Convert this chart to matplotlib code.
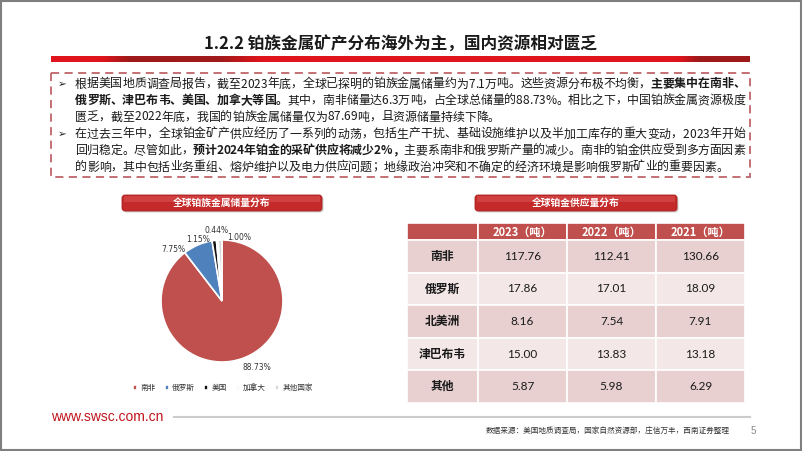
import matplotlib
matplotlib.use('Agg')
import matplotlib.pyplot as plt
from matplotlib.patches import Rectangle, FancyBboxPatch
from matplotlib.colors import LinearSegmentedColormap
import numpy as np

CJK = 'Noto Sans CJK SC'
plt.rcParams['font.family'] = [CJK, 'DejaVu Sans']

# ---------------- data ----------------
title = '1.2.2 铂族金属矿产分布海外为主，国内资源相对匮乏'

para1 = [
    [('根据美国地质调查局报告，截至2023年底，全球已探明的铂族金属储量约为7.1万吨。这些资源分布极不均衡，', False),
     ('主要集中在南非、', True)],
    [('俄罗斯、津巴布韦、美国、加拿大等国。', True),
     ('其中，南非储量达6.3万吨，占全球总储量的88.73%。相比之下，中国铂族金属资源极度', False)],
    [('匮乏，截至2022年底，我国的铂族金属储量仅为87.69吨，且资源储量持续下降。', False)],
]
para2 = [
    [('在过去三年中，全球铂金矿产供应经历了一系列的动荡，包括生产干扰、基础设施维护以及半加工库存的重大变动，2023年开始', False)],
    [('回归稳定。尽管如此，', False), ('预计2024年铂金的采矿供应将减少2%，', True),
     ('主要系南非和俄罗斯产量的减少。南非的铂金供应受到多方面因素', False)],
    [('的影响，其中包括业务重组、熔炉维护以及电力供应问题；地缘政治冲突和不确定的经济环境是影响俄罗斯矿业的重要因素。', False)],
]

pie_title = '全球铂族金属储量分布'
pie_labels = ['南非', '俄罗斯', '美国', '加拿大', '其他国家']
pie_values = [88.73, 7.75, 1.15, 0.44, 1.00]

table_title = '全球铂金供应量分布'
table_cols = ['2023（吨）', '2022（吨）', '2021（吨）']
table_rows = ['南非', '俄罗斯', '北美洲', '津巴布韦', '其他']
supply_2023 = [117.76, 17.86, 8.16, 15.00, 5.87]
supply_2022 = [112.41, 17.01, 7.54, 13.83, 5.98]
supply_2021 = [130.66, 18.09, 7.91, 13.18, 6.29]

source = '数据来源：美国地质调查局，国家自然资源部，庄信万丰，西南证券整理'
website = 'www.swsc.com.cn'
page_no = '5'

# ---------------- figure ----------------
W, H = 802, 451
fig = plt.figure(figsize=(W / 100, H / 100), dpi=100)
fig.patch.set_facecolor('white')
ax0 = fig.add_axes([0, 0, 1, 1])
ax0.set_xlim(0, W)
ax0.set_ylim(H, 0)
ax0.axis('off')
renderer = fig.canvas.get_renderer()

# outer frame
ax0.add_patch(Rectangle((0.8, 0.8), W - 1.6, H - 1.6, fill=False, edgecolor='#7f7f7f', lw=1.5))

# title
ax0.text(400, 45, title, ha='center', va='center', fontsize=12, fontweight='bold', color='#1a1a1a')

# title bar with gradient
stops = [(0.0, '#e0141c'), (0.07, '#e0141c'), (0.11, '#9e1a1a'), (0.24, '#a01a1a'),
         (0.30, '#e0141c'), (0.90, '#e0141c'), (0.93, '#9e1a1a'), (1.0, '#9e1a1a')]
cmap_bar = LinearSegmentedColormap.from_list('bar', stops)
grad = np.linspace(0, 1, 400).reshape(1, -1)
ax0.imshow(grad, cmap=cmap_bar, extent=[51, 750, 62.5, 57], aspect='auto', zorder=2)
ax0.set_xlim(0, W)
ax0.set_ylim(H, 0)

# dashed box
ax0.add_patch(Rectangle((51, 73), 699, 104, fill=False, edgecolor='#c0646a', lw=1.3,
                        linestyle=(0, (4.5, 3))))

# justified text helper
_cache = {}
def adv(c, bold, size):
    key = (c, bold, size)
    if key not in _cache:
        wt = 'bold' if bold else 'normal'
        t1 = ax0.text(0, 0, '中' + c + '中', fontsize=size, fontweight=wt)
        t2 = ax0.text(0, 0, '中中', fontsize=size, fontweight=wt)
        w = t1.get_window_extent(renderer).width - t2.get_window_extent(renderer).width
        t1.remove(); t2.remove()
        _cache[key] = w
    return _cache[key]

def draw_line(pieces, x0, x1, y, size, justify):
    chars = [(c, b) for txt, b in pieces for c in txt]
    widths = [adv(c, b, size) for c, b in chars]
    total = sum(widths)
    gap = (x1 - x0 - total) / (len(chars) - 1) if justify and len(chars) > 1 else 0
    x = x0
    for (c, b), w in zip(chars, widths):
        ax0.text(x, y, c, ha='left', va='center', fontsize=size,
                 fontweight='bold' if b else 'normal', color='#1a1a1a')
        x += w + gap

BODY = 8.6
line_y = [84, 100.5, 117, 134, 150.5, 167]
all_lines = para1 + para2
just = [True, True, False, True, True, False]
for ln, y, j in zip(all_lines, line_y, just):
    draw_line(ln, 75, 745, y, BODY, j)
for y in (line_y[0], line_y[3]):
    ax0.text(62, y, '➢', ha='center', va='center', fontsize=7.5, family='DejaVu Sans', color='#1a1a1a')

# header bars
def header_bar(x0, x1, y0, y1, text):
    ax0.add_patch(FancyBboxPatch((x0 + 1.5, y0 + 1.5), x1 - x0, y1 - y0,
                                 boxstyle='round,pad=0,rounding_size=3', facecolor='#b0b0b0',
                                 edgecolor='none', alpha=0.6, zorder=2))
    ax0.add_patch(FancyBboxPatch((x0, y0), x1 - x0, y1 - y0,
                                 boxstyle='round,pad=0,rounding_size=3', facecolor='#c42a2a',
                                 edgecolor='#a81f1f', lw=0.6, zorder=3))
    ax0.add_patch(Rectangle((x0 + 2, y0 + 1), x1 - x0 - 4, (y1 - y0) * 0.4,
                            facecolor='#d9504f', edgecolor='none', zorder=3, alpha=0.6))
    ax0.text((x0 + x1) / 2, (y0 + y1) / 2, text, ha='center', va='center', fontsize=7,
             fontweight='bold', color='white', zorder=4)

header_bar(122, 322, 195, 211, pie_title)
header_bar(475, 677, 195, 211, table_title)

# ---------------- pie ----------------
cx, cy, r = 222, 301, 61
ax_pie = fig.add_axes([(cx - r) / W, 1 - (cy + r) / H, 2 * r / W, 2 * r / H])
pie_colors = ['#c0504d', '#4f81bd', '#111111', '#f7f7f7', '#d9d9d9']
wedges, _ = ax_pie.pie(pie_values, colors=pie_colors, startangle=90, counterclock=False,
                       wedgeprops=dict(edgecolor='white', linewidth=1.2))
for w in wedges:
    w.set_clip_on(False)
ax_pie.set_xlim(-1, 1)
ax_pie.set_ylim(-1, 1)
ax_pie.set_aspect('equal')
ax_pie.axis('off')
label_r = [1.24, 1.16, 1.08, 1.16, 1.08]
label_shift = [9, 20, 14, 0, -17]
for w, v, lr, sh in zip(wedges, pie_values, label_r, label_shift):
    th = np.deg2rad((w.theta1 + w.theta2) / 2 + sh)
    ax_pie.text(lr * np.cos(th), lr * np.sin(th), f'{v:.2f}%', ha='center', va='center',
                fontsize=5.5, color='#333333', family='DejaVu Sans')

fig.legend(wedges, pie_labels, loc='center', bbox_to_anchor=(223 / W, 1 - 388 / H), ncol=5,
           frameon=False, fontsize=5.5, handlelength=0.55, handleheight=0.55,
           columnspacing=1.2, handletextpad=0.4, labelcolor='#333333')

# ---------------- table ----------------
col_x = [407, 478, 567, 656, 745]
head_y0, head_y1 = 223, 240
row_h = (403 - 240) / len(table_rows)
header_col = '#c0504d'
row_cols = ['#e8d0d1', '#f3e7e8']
for i in range(4):
    ax0.add_patch(Rectangle((col_x[i], head_y0), col_x[i + 1] - col_x[i], head_y1 - head_y0,
                            facecolor=header_col, edgecolor='white', lw=1.2))
for i, c in enumerate(table_cols):
    ax0.text((col_x[i + 1] + col_x[i + 2]) / 2, (head_y0 + head_y1) / 2 + 0.5, c, ha='center',
             va='center', fontsize=8, fontweight='bold', color='white')
columns = [supply_2023, supply_2022, supply_2021]
for j, name in enumerate(table_rows):
    y0 = head_y1 + j * row_h
    fc = row_cols[j % 2]
    for i in range(4):
        ax0.add_patch(Rectangle((col_x[i], y0), col_x[i + 1] - col_x[i], row_h,
                                facecolor=fc, edgecolor='white', lw=1.2))
    ax0.text((col_x[0] + col_x[1]) / 2, y0 + row_h / 2, name, ha='center', va='center',
             fontsize=8.5, fontweight='bold', color='#1a1a1a')
    for i, col in enumerate(columns):
        ax0.text((col_x[i + 1] + col_x[i + 2]) / 2, y0 + row_h / 2, f'{col[j]:.2f}',
                 ha='center', va='center', fontsize=8.5, family='Lato', color='#1a1a1a')

# ---------------- footer ----------------
ax0.text(51, 417, website, ha='left', va='center', fontsize=10, family='Liberation Sans',
         color='#c0141c')
ax0.plot([174, 750], [417, 417], color='#cccccc', lw=1.5)
ax0.text(730, 431, source, ha='right', va='center', fontsize=5.5, color='#333333', style='italic')
ax0.text(753, 431, page_no, ha='center', va='center', fontsize=7, color='#888888',
         family='Liberation Sans')

fig.savefig('out.png', dpi=100, facecolor='white')
